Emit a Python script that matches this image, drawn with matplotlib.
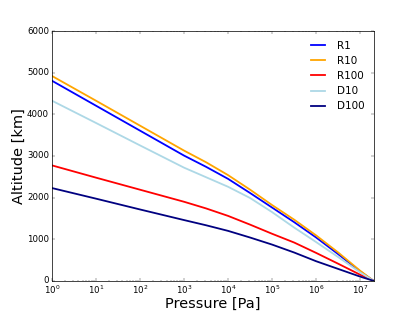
import numpy as np
import matplotlib
matplotlib.use('Agg')
import matplotlib.pyplot as plt

# Pressão (Pa): décadas e meias décadas + ponto final
pressao = [1e0, 1e1, 1e2, 1e3, 10**3.5, 1e4, 10**4.5, 1e5, 10**5.5,
           1e6, 10**6.5, 1e7, 2e7]

# Altitude (km) para cada caso
r1 = [4810, 4210, 3610, 3010, 2740, 2450, 2110, 1760, 1410, 1040, 640, 225, 0]
r10 = [4925, 4330, 3730, 3130, 2850, 2540, 2190, 1820, 1470, 1090, 680, 240, 0]
r100 = [2775, 2480, 2190, 1900, 1740, 1560, 1350, 1130, 920, 670, 410, 145, 0]
d10 = [4330, 3795, 3255, 2720, 2490, 2260, 1990, 1650, 1280, 930, 570, 200, 0]
d100 = [2230, 1975, 1715, 1460, 1335, 1200, 1040, 870, 680, 470, 285, 100, 0]

nomes = ['R1', 'R10', 'R100', 'D10', 'D100']
cores = ['blue', 'orange', 'red', 'lightblue', 'navy']

plt.style.use('classic')
fig = plt.figure(figsize=(415/52, 312/52), dpi=52)
ax = fig.add_subplot(111)

for serie, nome, cor in zip([r1, r10, r100, d10, d100], nomes, cores):
    ax.semilogx(pressao, serie, color=cor, lw=2.5, label=nome)

ax.set_xlim(1, 2e7)
ax.set_ylim(0, 6000)
ax.set_xlabel('Pressure [Pa]', fontsize=20)
ax.set_ylabel('Altitude [km]', fontsize=20)
ax.xaxis.set_label_coords(0.5, -0.065)
ax.yaxis.set_label_coords(-0.08, 0.5)
ax.legend(loc='upper right', frameon=False)

fig.savefig('out.png', dpi=52)
